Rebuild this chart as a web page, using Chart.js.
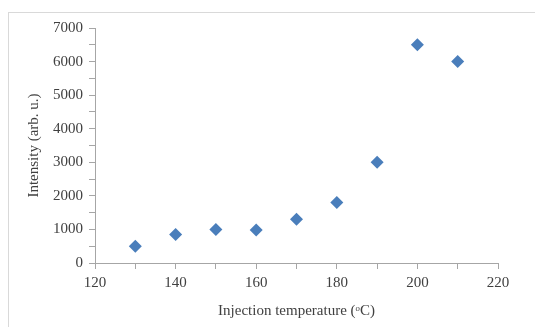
<!DOCTYPE html>
<html>
<head>
<meta charset="utf-8">
<script src="https://cdn.jsdelivr.net/npm/chart.js@4"></script>
<style>
  html, body { margin: 0; padding: 0; background: #fff; overflow: hidden; }
  #wrap { position: relative; width: 535px; height: 327px; }
  #frame { position: absolute; left: 8px; top: 12px; width: 600px; height: 400px; border: 1px solid #d9d9d9; }
  #chart { position: absolute; left: 0; top: 0; }
</style>
</head>
<body>
<div id="wrap">
  <div id="frame"></div>
  <canvas id="chart" width="535" height="327"></canvas>
</div>
<script>
// injection temperature (°C) and intensity
const temperatures = [130, 140, 150, 160, 170, 180, 190, 200, 210];
const intensities = [500, 850, 1000, 980, 1300, 1800, 3000, 6500, 6000];

const xMin = 120, xMax = 220, xStep = 10, xLabelStep = 20;
const yMin = 0, yMax = 7000, yStep = 500, yLabelStep = 1000;

const FONT = "'Liberation Serif', 'Times New Roman', serif";
const TEXT = '#404040';
const AXIS = '#a6a6a6';

new Chart(document.getElementById('chart'), {
  type: 'scatter',
  data: {
    datasets: [{
      data: temperatures.map((t, i) => ({ x: t, y: intensities[i] })),
      pointStyle: 'rectRot',
      pointRadius: 6.5,
      backgroundColor: '#4a7ebb',
      borderColor: '#4a7ebb',
      borderWidth: 0
    }]
  },
  options: {
    responsive: false,
    animation: false,
    layout: { padding: { left: 25, right: 37, top: 28, bottom: 7 } },
    plugins: { legend: { display: false }, tooltip: { enabled: false } },
    scales: {
      x: {
        type: 'linear',
        min: xMin,
        max: xMax,
        border: { color: AXIS, width: 1 },
        grid: { drawOnChartArea: false, drawTicks: true, tickLength: 6, color: AXIS },
        ticks: {
          stepSize: xStep,
          maxRotation: 0,
          autoSkip: false,
          color: TEXT,
          font: { family: FONT, size: 15 },
          padding: 5,
          callback: v => (v % xLabelStep === 0 ? v : '')
        },
        title: {
          display: true,
          text: 'Injection temperature (\u1d52C)',
          color: TEXT,
          font: { family: FONT, size: 15 },
          padding: { top: 5, bottom: 0 }
        }
      },
      y: {
        type: 'linear',
        min: yMin,
        max: yMax,
        border: { color: AXIS, width: 1 },
        grid: { drawOnChartArea: false, drawTicks: true, tickLength: 6, color: AXIS },
        ticks: {
          stepSize: yStep,
          autoSkip: false,
          color: TEXT,
          font: { family: FONT, size: 15 },
          padding: 6,
          callback: v => (v % yLabelStep === 0 ? v : '')
        },
        title: {
          display: true,
          text: 'Intensity (arb. u.)',
          color: TEXT,
          font: { family: FONT, size: 15 },
          padding: { top: 0, bottom: 4 }
        }
      }
    }
  }
});
</script>
</body>
</html>
